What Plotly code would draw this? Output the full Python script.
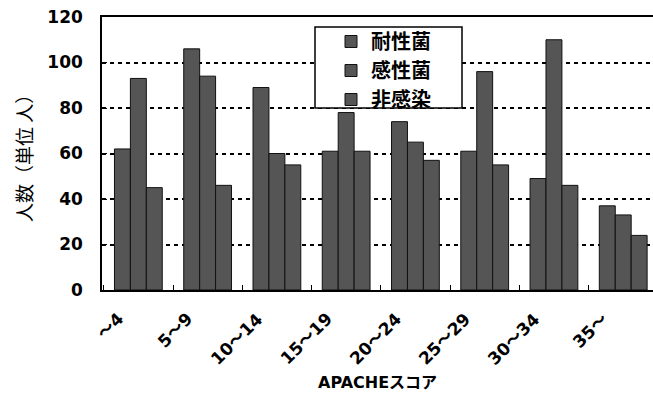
import plotly.graph_objects as go

categories = ["～4", "5～9", "10～14", "15～19", "20～24", "25～29", "30～34", "35～"]
series_names = ["耐性菌", "感性菌", "非感染"]
resistant = [62, 106, 89, 61, 74, 61, 49, 37]
sensitive = [93, 94, 60, 78, 65, 96, 110, 33]
uninfected = [45, 46, 55, 61, 57, 55, 46, 24]
y_ticks = [0, 20, 40, 60, 80, 100, 120]

FONT = "DejaVu Sans, Noto Sans CJK JP, sans-serif"
W, H = 653, 394
L, R, T, B = 102, 0, 17, 104
pw, ph = W - L - R, H - T - B


def px_x(x):
    return (x - L) / pw


def px_y(y):
    return 1 - (y - T) / ph


fig = go.Figure()
for name, vals in zip(series_names, [resistant, sensitive, uninfected]):
    fig.add_trace(go.Bar(
        x=categories, y=vals, name=name,
        marker=dict(color="#555555", line=dict(color="#111111", width=1)),
    ))

fig.add_shape(type="rect", xref="paper", yref="paper",
              x0=px_x(315), x1=px_x(462), y0=px_y(108), y1=px_y(27),
              line=dict(color="black", width=1.5), fillcolor="white", layer="above")

# rotated category labels
for c in categories:
    fig.add_annotation(x=c, y=0, xref="x", yref="y", text=c, showarrow=False,
                       textangle=-45, xanchor="right", yanchor="top",
                       xshift=-8, yshift=-16,
                       font=dict(size=17, weight="bold", family=FONT, color="black"))

fig.add_annotation(x=px_x(377), y=px_y(382), xref="paper", yref="paper",
                   text="APACHEスコア", showarrow=False,
                   xanchor="center", yanchor="middle",
                   font=dict(size=16, weight="bold", family=FONT, color="black"))

fig.update_layout(
    width=W, height=H,
    margin=dict(l=L, r=R, t=T, b=B),
    paper_bgcolor="white", plot_bgcolor="white",
    barmode="group", bargap=0.31, bargroupgap=0,
    font=dict(family=FONT, color="black"),
    showlegend=True,
    legend=dict(
        x=px_x(331), y=px_y(22), xanchor="left", yanchor="top",
        borderwidth=0, bgcolor="rgba(0,0,0,0)",
        font=dict(size=20, family="Noto Sans CJK JP", weight="bold"),
        itemwidth=30, tracegroupgap=0,
    ),
    xaxis=dict(
        type="category", range=[-0.525, 7.43], automargin=False,
        showline=True, linecolor="black", linewidth=1.5, mirror=True,
        ticks="inside", tickson="boundaries", ticklen=5, tickcolor="black",
        showticklabels=False, showgrid=False,
    ),
    yaxis=dict(
        range=[0, 120], tickvals=y_ticks, automargin=False,
        showline=True, linecolor="black", linewidth=1.5,
        ticks="inside", ticklen=5, tickcolor="black",
        tickfont=dict(size=17, weight="bold"), ticklabelstandoff=14,
        showgrid=True, gridcolor="black", gridwidth=1.5, griddash="4px,4px",
        zeroline=False,
        title=dict(text="人数（単位 人）", font=dict(size=19, family="Noto Sans CJK JP"), standoff=10),
    ),
)
fig.write_html("out.html")
